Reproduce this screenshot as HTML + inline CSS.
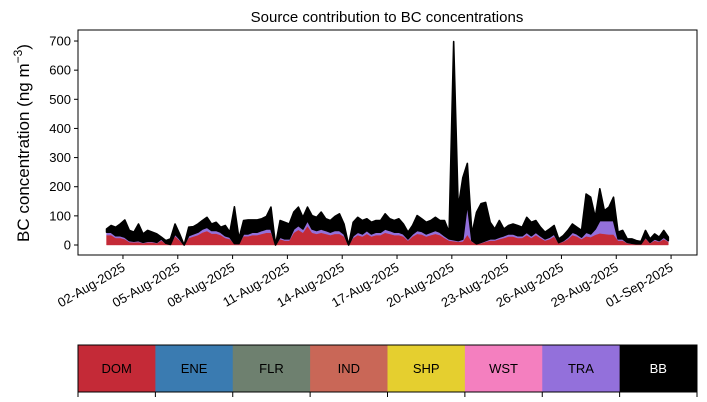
<!DOCTYPE html>
<html><head><meta charset="utf-8"><style>
body{margin:0;background:#fff;}
svg{display:block;font-family:"Liberation Sans","DejaVu Sans",sans-serif;}
</style></head><body>
<svg id="chart" width="707" height="402" viewBox="0 0 707 402">
<rect x="0" y="0" width="707" height="402" fill="#fff"/>
<text x="387" y="22" font-size="15" text-anchor="middle">Source contribution to BC concentrations</text>
<text transform="translate(29,143) rotate(-90)" font-size="17" text-anchor="middle">BC concentration (ng m<tspan dy="-7" font-size="12">−3</tspan><tspan dy="7">)</tspan></text>
<g id="layers"></g>
<g id="yticks"></g>
<g id="xticks"></g>
<rect x="78" y="30" width="619" height="225" fill="none" stroke="#000" stroke-width="1"/>
<g id="legend"></g>
</svg>
<script>
const DOM=[34,34,24,24,20,10,9,10,6,9,9,6,15,4,1,30,15,0,24,29,34,43,48,39,39,34,24,20,3,3,30,30,
34,34,38,42,42,0,20,15,15,42,52,42,65,42,38,42,38,34,38,38,29,0,24,34,29,38,29,34,34,42,38,34,34,
29,15,29,38,36,29,34,38,34,24,15,13,11,12,35,11,3,6,11,15,15,20,24,29,29,24,24,34,24,34,24,15,20,
29,6,11,20,34,29,20,30,27,35,40,38,36,36,15,15,6,4,3,3,22,6,15,11,20,11];
const TRA=[10,10,8,8,7,5,4,5,3,4,4,3,6,2,1,8,6,0,8,9,10,12,13,11,11,10,8,7,2,2,8,8,
10,10,12,13,13,0,7,6,6,13,15,13,19,13,12,13,12,10,12,12,9,0,8,10,9,12,9,10,10,13,12,10,10,
9,6,9,12,11,9,10,12,10,8,6,5,4,8,108,4,1,3,4,6,6,7,8,9,9,8,8,10,8,10,8,6,7,
9,2,4,7,10,9,7,14,11,20,44,46,48,48,6,6,3,2,1,1,5,3,6,4,7,4];
const BB=[11,23,29,40,59,35,31,57,29,37,31,29,6,9,19,34,17,0,29,25,28,29,34,22,28,17,35,17,126,17,46,48,
42,42,40,43,75,0,57,57,51,58,63,40,46,46,45,58,40,40,48,57,34,0,46,51,46,40,40,40,40,52,40,40,46,
34,23,29,51,43,40,40,45,40,52,23,680,113,211,137,23,108,133,131,57,34,57,23,29,34,35,29,51,46,40,29,23,28,
29,13,17,23,28,23,23,131,126,40,109,34,46,80,23,29,12,15,11,8,23,12,17,12,23,12];
const yTicks=[0,100,200,300,400,500,600,700];
const xTickDays=[1,4,7,10,13,16,19,22,25,28,31];
const xTickLabels=["02-Aug-2025","05-Aug-2025","08-Aug-2025","11-Aug-2025","14-Aug-2025","17-Aug-2025","20-Aug-2025","23-Aug-2025","26-Aug-2025","29-Aug-2025","01-Sep-2025"];
const sources=["DOM","ENE","FLR","IND","SHP","WST","TRA","BB"];
const srcColors=["#c42a37","#3a7bb1","#6e806f","#c96757","#e5cf2f","#f47fbf","#9370db","#000000"];

const NS="http://www.w3.org/2000/svg";
const X0=78,X1=697,Y0=245,YPER=0.2914;
function xDay(d){return 104.7+d*18.27;}
function xIdx(i){return xDay(0.1+i*0.25);}
function yVal(v){return Y0-v*YPER;}
function mk(tag,attrs,parent){const e=document.createElementNS(NS,tag);for(const k in attrs)e.setAttribute(k,attrs[k]);parent.appendChild(e);return e;}

const layersG=document.getElementById('layers');
const series=[DOM,TRA,BB];
const colors=["#c42a37","#9370db","#000000"];
const names=["area-dom","area-tra","area-bb"];
let base=DOM.map(()=>0);
series.forEach((s,k)=>{
  const top=s.map((v,i)=>base[i]+v);
  let d="";
  top.forEach((v,i)=>{d+=(i?"L":"M")+xIdx(i).toFixed(2)+","+yVal(v).toFixed(2);});
  for(let i=top.length-1;i>=0;i--)d+="L"+xIdx(i).toFixed(2)+","+yVal(base[i]).toFixed(2);
  d+="Z";
  const p=mk('path',{d:d,fill:colors[k],stroke:colors[k],'stroke-width':k==2?1.6:0.4,'stroke-linejoin':'round'},layersG);
  
  
  base=top;
});

const yG=document.getElementById('yticks');
yTicks.forEach(v=>{
  const y=yVal(v);
  const l=mk('line',{x1:X0-4,x2:X0,y1:y,y2:y,stroke:'#000'},yG);
  
  
  const t=mk('text',{x:X0-7,y:y+4.5,'font-size':13,'text-anchor':'end'},yG);
  t.textContent=v;
  
  
});
const xG=document.getElementById('xticks');
xTickDays.forEach((d,i)=>{
  const x=xDay(d);
  const l=mk('line',{x1:x,x2:x,y1:255,y2:259,stroke:'#000'},xG);
  
  
  const t=mk('text',{transform:`translate(${x+3},${270}) rotate(-30)`,'font-size':13,'text-anchor':'end'},xG);
  t.textContent=xTickLabels[i];
  
  
});

const lg=document.getElementById('legend');
const cw=(X1-X0)/sources.length;
sources.forEach((s,i)=>{
  const x=X0+i*cw;
  const r=mk('rect',{x:x,y:345,width:cw+0.5,height:47,fill:srcColors[i]},lg);
  
  
  const t=mk('text',{x:x+cw/2,y:373,'font-size':13,'text-anchor':'middle',fill:s==="BB"?"#fff":"#000"},lg);
  t.textContent=s;
  
  
});
for(let i=0;i<=sources.length;i++){
  const x=X0+i*cw;
  const l=mk('line',{x1:x,x2:x,y1:392,y2:397,stroke:'#000'},lg);
  
  
}
const fr=mk('rect',{x:X0,y:345,width:X1-X0,height:47,fill:'none',stroke:'#000'},lg);


</script>
</body></html>
